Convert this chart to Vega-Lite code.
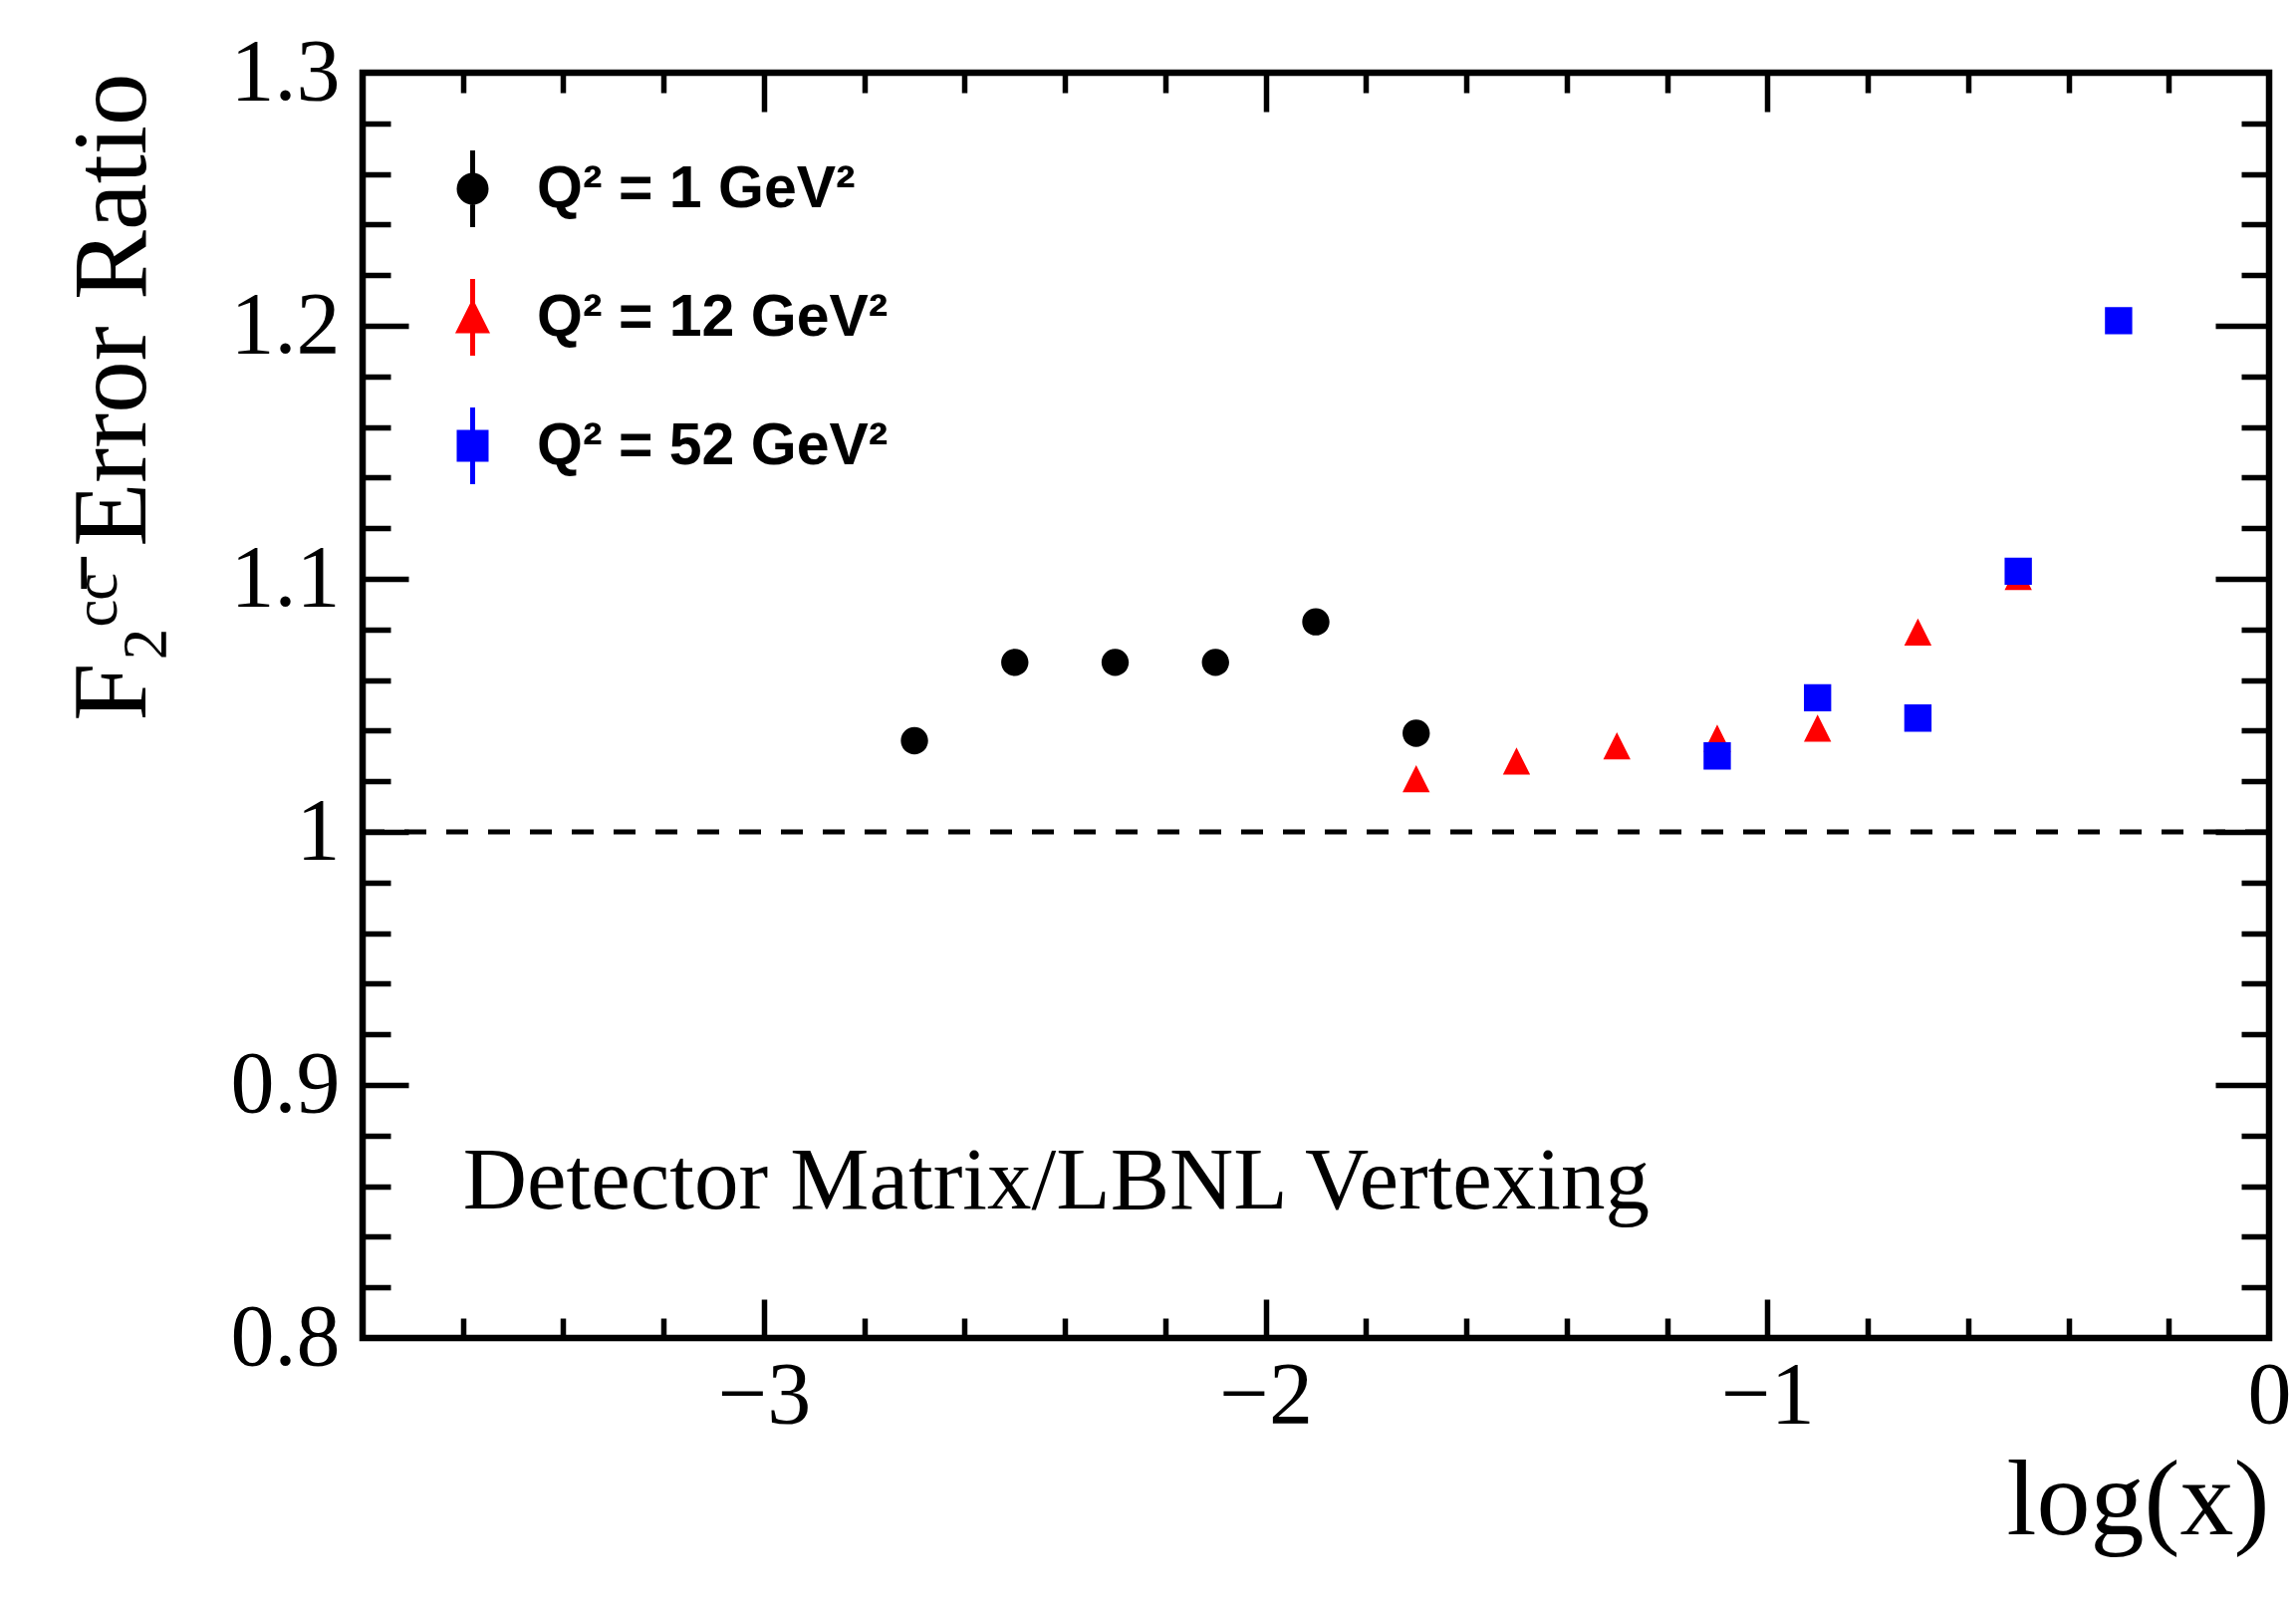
{
  "$schema": "https://vega.github.io/schema/vega-lite/v6.json",
  "width": 1914,
  "height": 1270,
  "autosize": {"type": "none"},
  "padding": {"left": 364, "top": 73, "right": 27, "bottom": 270},
  "background": "white",
  "config": {
    "view": {"stroke": "black", "strokeWidth": 6.5},
    "axis": {"domain": false, "grid": false, "labelFont": "Liberation Serif", "titleFont": "Liberation Serif", "labelColor": "black", "titleColor": "black", "tickColor": "black", "tickWidth": 5.5, "labelFlush": false, "labelOverlap": false, "labelBound": false, "titleFontWeight": "normal"}
  },
  "data": {
    "values": [
      {"logx": -2.7, "ratio": 1.036, "series": "Q² = 1 GeV²"},
      {"logx": -2.5, "ratio": 1.067, "series": "Q² = 1 GeV²"},
      {"logx": -2.3, "ratio": 1.067, "series": "Q² = 1 GeV²"},
      {"logx": -2.1, "ratio": 1.067, "series": "Q² = 1 GeV²"},
      {"logx": -1.9, "ratio": 1.083, "series": "Q² = 1 GeV²"},
      {"logx": -1.7, "ratio": 1.039, "series": "Q² = 1 GeV²"},
      {"logx": -1.7, "ratio": 1.021, "series": "Q² = 12 GeV²"},
      {"logx": -1.5, "ratio": 1.028, "series": "Q² = 12 GeV²"},
      {"logx": -1.3, "ratio": 1.034, "series": "Q² = 12 GeV²"},
      {"logx": -1.1, "ratio": 1.037, "series": "Q² = 12 GeV²"},
      {"logx": -0.9, "ratio": 1.041, "series": "Q² = 12 GeV²"},
      {"logx": -0.7, "ratio": 1.079, "series": "Q² = 12 GeV²"},
      {"logx": -0.5, "ratio": 1.101, "series": "Q² = 12 GeV²"},
      {"logx": -1.1, "ratio": 1.030, "series": "Q² = 52 GeV²"},
      {"logx": -0.9, "ratio": 1.053, "series": "Q² = 52 GeV²"},
      {"logx": -0.7, "ratio": 1.045, "series": "Q² = 52 GeV²"},
      {"logx": -0.5, "ratio": 1.103, "series": "Q² = 52 GeV²"},
      {"logx": -0.3, "ratio": 1.202, "series": "Q² = 52 GeV²"}
    ]
  },
  "layer": [
    {
      "data": {"values": [{}]},
      "mark": {"type": "rule", "color": "black", "strokeWidth": 5, "strokeDash": [22, 20]},
      "encoding": {
        "x": {"datum": -3.8, "type": "quantitative", "scale": {"domain": [-3.8, 0], "nice": false, "zero": false},
              "axis": {"orient": "bottom", "values": [-3, -2, -1], "labels": false, "tickSize": -39, "title": null}},
        "x2": {"datum": 0},
        "y": {"datum": 1, "type": "quantitative", "scale": {"domain": [0.8, 1.3], "nice": false, "zero": false},
              "axis": {"orient": "left", "values": [0.9, 1, 1.1, 1.2], "labels": false, "tickSize": -46, "title": null}}
      }
    },
    {
      "data": {"values": [{}]},
      "mark": {"type": "text", "font": "Liberation Serif", "fontSize": 89, "align": "left", "baseline": "alphabetic", "color": "black"},
      "encoding": {
        "x": {"datum": -3.6, "type": "quantitative",
              "axis": {"orient": "bottom", "values": [-3.6, -3.4, -3.2, -2.8, -2.6, -2.4, -2.2, -1.8, -1.6, -1.4, -1.2, -0.8, -0.6, -0.4, -0.2], "labels": false, "tickSize": -20, "title": null}},
        "y": {"datum": 0.851, "type": "quantitative",
              "axis": {"orient": "left", "values": [0.82, 0.84, 0.86, 0.88, 0.92, 0.94, 0.96, 0.98, 1.02, 1.04, 1.06, 1.08, 1.12, 1.14, 1.16, 1.18, 1.22, 1.24, 1.26, 1.28], "labels": false, "tickSize": -28, "title": null}},
        "text": {"value": "Detector Matrix/LBNL Vertexing"}
      }
    },
    {
      "transform": [{"filter": "datum.series == 'Q² = 1 GeV²'"}],
      "mark": {"type": "point", "filled": true, "size": 750, "opacity": 1, "strokeWidth": 0},
      "encoding": {
        "x": {"field": "logx", "type": "quantitative",
              "axis": {"orient": "bottom", "values": [-3, -2, -1, 0], "format": "~g", "ticks": false, "labelPadding": 14, "labelFontSize": 88,
                       "title": "log(x)", "titleFontSize": 108, "titleX": 1914, "titleY": 196, "titleAlign": "right", "titleBaseline": "alphabetic", "titleAngle": 0}},
        "y": {"field": "ratio", "type": "quantitative",
              "axis": {"orient": "left", "values": [0.8, 0.9, 1, 1.1, 1.2, 1.3], "format": "~g", "ticks": false, "labelPadding": 23, "labelFontSize": 88,
                       "title": "F₂ᶜᶜ̄ Error Ratio", "titleFontSize": 105, "titleX": -219, "titleY": 0, "titleAlign": "right", "titleBaseline": "alphabetic", "titleAngle": -90}},
        "color": {"field": "series", "type": "nominal",
                  "scale": {"domain": ["Q² = 1 GeV²", "Q² = 12 GeV²", "Q² = 52 GeV²"], "range": ["#000000", "#ff0000", "#0000ff"]},
                  "legend": {"title": null, "orient": "none", "legendX": 81, "legendY": 87, "padding": 0, "symbolSize": 729, "symbolStrokeWidth": 5, "labelFont": "Liberation Sans", "labelFontWeight": "bold", "labelFontSize": 59, "labelColor": "black", "labelOffset": 35, "labelLimit": 1000, "rowPadding": 32}},
        "stroke": {"field": "series", "type": "nominal",
                  "scale": {"domain": ["Q² = 1 GeV²", "Q² = 12 GeV²", "Q² = 52 GeV²"], "range": ["#000000", "#ff0000", "#0000ff"]}},
        "shape": {"field": "series", "type": "nominal",
                  "scale": {"domain": ["Q² = 1 GeV²", "Q² = 12 GeV²", "Q² = 52 GeV²"],
                            "range": ["M-1,0A1,1,0,1,0,1,0A1,1,0,1,0,-1,0ZM0,-2.85V2.85", "M0,-1L1,1L-1,1ZM0,-2.85V2.85", "M-1,-1H1V1H-1ZM0,-2.85V2.85"]}}
      }
    },
    {
      "transform": [{"filter": "datum.series == 'Q² = 12 GeV²'"}],
      "mark": {"type": "point", "filled": true, "size": 750, "opacity": 1, "strokeWidth": 0},
      "encoding": {
        "x": {"field": "logx", "type": "quantitative",
              "axis": {"orient": "top", "values": [-3, -2, -1], "labels": false, "tickSize": -39, "title": null}},
        "y": {"field": "ratio", "type": "quantitative",
              "axis": {"orient": "right", "values": [0.9, 1, 1.1, 1.2], "labels": false, "tickSize": -54, "title": null}},
        "color": {"field": "series", "type": "nominal"},
        "stroke": {"field": "series", "type": "nominal"},
        "shape": {"field": "series", "type": "nominal"}
      }
    },
    {
      "transform": [{"filter": "datum.series == 'Q² = 52 GeV²'"}],
      "mark": {"type": "point", "filled": true, "size": 750, "opacity": 1, "strokeWidth": 0},
      "encoding": {
        "x": {"field": "logx", "type": "quantitative",
              "axis": {"orient": "top", "values": [-3.6, -3.4, -3.2, -2.8, -2.6, -2.4, -2.2, -1.8, -1.6, -1.4, -1.2, -0.8, -0.6, -0.4, -0.2], "labels": false, "tickSize": -20, "title": null}},
        "y": {"field": "ratio", "type": "quantitative",
              "axis": {"orient": "right", "values": [0.82, 0.84, 0.86, 0.88, 0.92, 0.94, 0.96, 0.98, 1.02, 1.04, 1.06, 1.08, 1.12, 1.14, 1.16, 1.18, 1.22, 1.24, 1.26, 1.28], "labels": false, "tickSize": -28, "title": null}},
        "color": {"field": "series", "type": "nominal"},
        "stroke": {"field": "series", "type": "nominal"},
        "shape": {"field": "series", "type": "nominal"}
      }
    }
  ],
  "resolve": {"axis": {"x": "independent", "y": "independent"}}
}
